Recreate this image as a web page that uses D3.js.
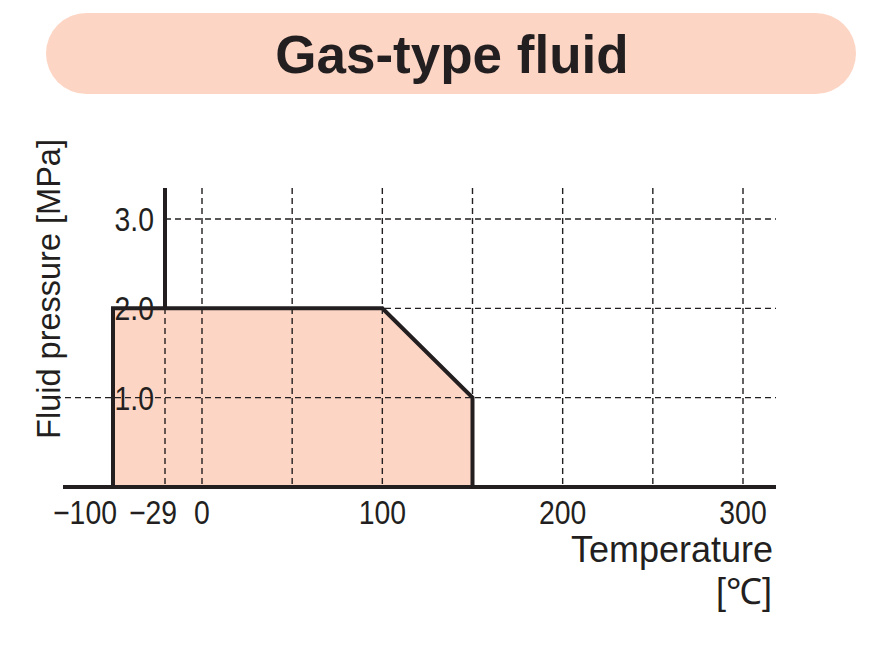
<!DOCTYPE html>
<html><head><meta charset="utf-8">
<script src="https://cdn.jsdelivr.net/npm/d3@7"></script>
<style>
html,body{margin:0;padding:0;background:#fff;}
svg{display:block;}
text{font-family:"Liberation Sans",Arial,sans-serif;fill:#231f20;}
</style></head>
<body><svg id="c" width="870" height="666"></svg>
<script>
const title = "Gas-type fluid";
const xTickValues = [-100, -29, 0, 100, 200, 300];
const xTickLabels = ["\u2212100", "\u221229", "0", "100", "200", "300"];
const xGridValues = [-29, 0, 50, 100, 150, 200, 250, 300];
const yTickValues = [1, 2, 3];
const yTickLabels = ["1.0", "2.0", "3.0"];
const rangeTemps = [-100, -100, 100, 150, 150];
const rangePressures = [0, 2, 2, 1, 0];
const xLabel = "Temperature";
const xUnit = "[\u2103]";
const yLabel = "Fluid pressure [MPa]";

const ink = "#231f20";
const peach = "#fdd5c4";
const svg = d3.select("#c");

// title pill
svg.append("rect").attr("x", 46).attr("y", 13).attr("width", 810).attr("height", 81)
  .attr("rx", 40.5).attr("fill", peach);
svg.append("text").attr("x", 452).attr("y", 73).attr("text-anchor", "middle")
  .style("font-weight", "bold").style("font-size", "53px").text(title);

const x = d3.scaleLinear().domain([-100, -29, 0, 300]).range([113, 165, 202, 743]);
const y = d3.scaleLinear().domain([0, 3]).range([487, 219]);
const xEnd = 776, yTop = 188, xStart = 63;

// range area
const pts = rangeTemps.map((t, i) => [t, rangePressures[i]]);
svg.append("path").datum(pts)
  .attr("d", d3.line().x(d => x(d[0])).y(d => y(d[1])))
  .attr("fill", peach).attr("stroke", "none");

// grid
const g = svg.append("g").attr("stroke", ink).attr("stroke-width", 1.4).attr("stroke-dasharray", "6,4");
g.selectAll(".vg").data(xGridValues).join("line")
  .attr("x1", d => x(d)).attr("x2", d => x(d)).attr("y1", yTop).attr("y2", y(0));
g.selectAll(".hg").data(yTickValues).join("line")
  .attr("x1", d => d === 1 ? 55 : x(-29)).attr("x2", xEnd)
  .attr("y1", d => y(d)).attr("y2", d => y(d));

// y-axis solid part
svg.append("line").attr("x1", x(-29)).attr("x2", x(-29)).attr("y1", yTop).attr("y2", y(2))
  .attr("stroke", ink).attr("stroke-width", 4);

// area outline
svg.append("path").datum(pts)
  .attr("d", d3.line().x(d => x(d[0])).y(d => y(d[1])))
  .attr("fill", "none").attr("stroke", ink).attr("stroke-width", 4).attr("stroke-linejoin", "miter");

// baseline
svg.append("line").attr("x1", xStart).attr("x2", xEnd).attr("y1", y(0)).attr("y2", y(0))
  .attr("stroke", ink).attr("stroke-width", 4);

const sx = 0.86;
// y tick labels
svg.selectAll(".yl").data(yTickValues).join("text")
  .attr("transform", d => `translate(154,${y(d) + 12}) scale(${sx},1)`).attr("text-anchor", "end")
  .style("font-size", "33px").text((d, i) => yTickLabels[i]);

// x tick labels
const xOff = {"-100": -28, "-29": -12};
svg.selectAll(".xl").data(xTickValues).join("text")
  .attr("transform", d => `translate(${x(d) + (xOff[d] || 0)},524) scale(${sx},1)`).attr("text-anchor", "middle")
  .style("font-size", "33px").text((d, i) => xTickLabels[i]);

// axis titles
svg.append("text").attr("x", 773).attr("y", 562).attr("text-anchor", "end")
  .style("font-size", "36px").text(xLabel);
svg.append("text").attr("x", 772).attr("y", 604).attr("text-anchor", "end")
  .style("font-size", "36px").text(xUnit);
svg.append("text").attr("transform", "translate(60,289) rotate(-90)").attr("text-anchor", "middle")
  .style("font-size", "32.5px").text(yLabel);
</script></body></html>
